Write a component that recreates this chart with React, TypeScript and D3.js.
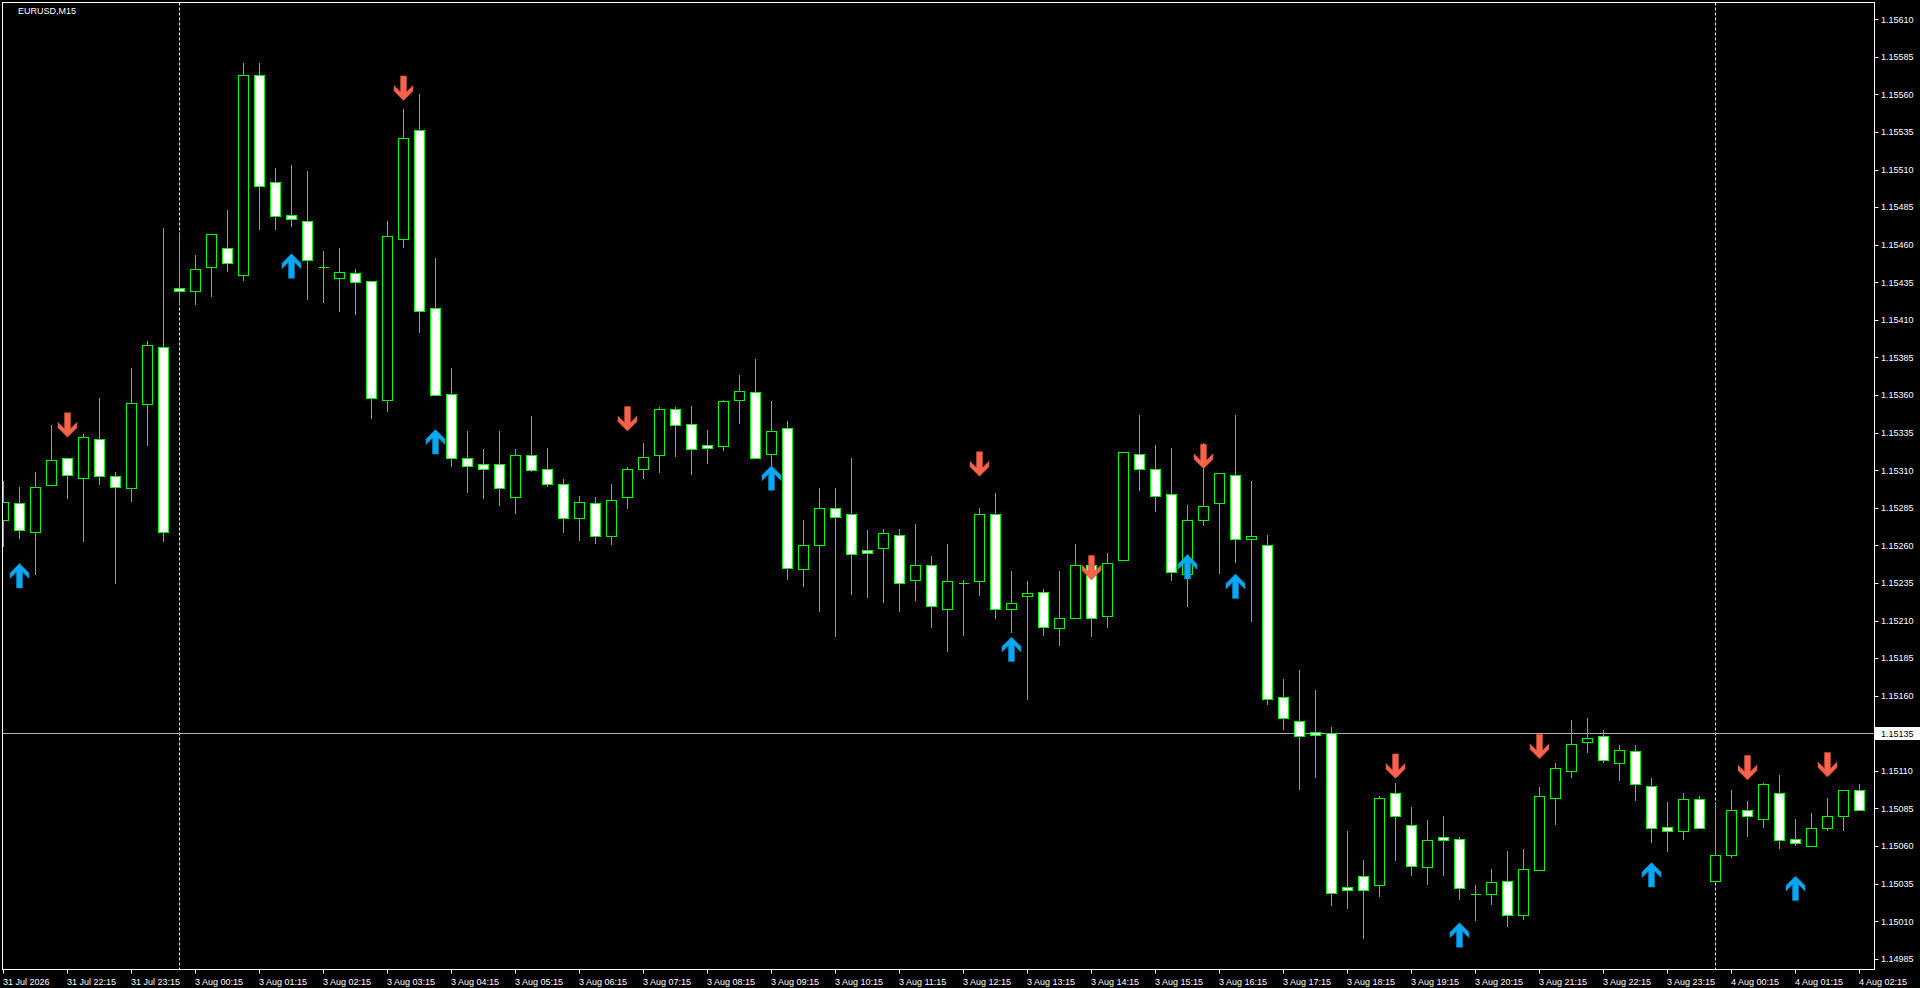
import React from 'react';
import * as d3 from 'd3';

const opens = [1.15277,1.15288,1.15269,1.15300,1.15318,1.15305,1.15331,1.15306,1.15298,1.15354,1.15392,1.15431,1.15429,1.15445,1.15458,1.15440,1.15573,1.15502,1.15480,1.15476,1.15445,1.15438,1.15441,1.15436,1.15357,1.15464,1.15536,1.15418,1.15361,1.15318,1.15314,1.15314,1.15292,1.15320,1.15311,1.15301,1.15278,1.15288,1.15266,1.15292,1.15311,1.15320,1.15351,1.15341,1.15327,1.15326,1.15357,1.15362,1.15321,1.15338,1.15244,1.15260,1.15285,1.15281,1.15257,1.15258,1.15267,1.15237,1.15247,1.15218,1.15235,1.15236,1.15281,1.15218,1.15226,1.15229,1.15205,1.15212,1.15247,1.15213,1.15250,1.15321,1.15311,1.15294,1.15241,1.15277,1.15288,1.15307,1.15264,1.15260,1.15159,1.15143,1.15136,1.15135,1.15033,1.15040,1.15034,1.15095,1.15074,1.15046,1.15066,1.15065,1.15028,1.15028,1.15037,1.15014,1.15044,1.15092,1.15110,1.15129,1.15133,1.15115,1.15123,1.15100,1.15073,1.15070,1.15091,1.15037,1.15054,1.15084,1.15078,1.15095,1.15065,1.15060,1.15072,1.15080,1.15097];
const highs = [1.15303,1.15299,1.15309,1.15340,1.15318,1.15334,1.15358,1.15309,1.15378,1.15396,1.15471,1.15468,1.15453,1.15467,1.15483,1.15581,1.15581,1.15511,1.15513,1.15509,1.15456,1.15458,1.15444,1.15436,1.15476,1.15550,1.15560,1.15451,1.15378,1.15336,1.15324,1.15336,1.15324,1.15346,1.15325,1.15304,1.15293,1.15292,1.15301,1.15312,1.15328,1.15352,1.15352,1.15353,1.15337,1.15357,1.15373,1.15384,1.15356,1.15343,1.15277,1.15298,1.15298,1.15318,1.15270,1.15271,1.15271,1.15274,1.15253,1.15261,1.15237,1.15285,1.15295,1.15243,1.15236,1.15231,1.15243,1.15261,1.15250,1.15255,1.15322,1.15347,1.15327,1.15325,1.15287,1.15328,1.15308,1.15347,1.15303,1.15267,1.15171,1.15177,1.15164,1.15139,1.15070,1.15051,1.15093,1.15102,1.15086,1.15077,1.15080,1.15066,1.15034,1.15045,1.15057,1.15058,1.15099,1.15115,1.15144,1.15145,1.15137,1.15127,1.15127,1.15105,1.15089,1.15095,1.15093,1.15089,1.15097,1.15090,1.15102,1.15107,1.15078,1.15082,1.15092,1.15097,1.15101];
const lows = [1.15259,1.15264,1.15240,1.15300,1.15291,1.15262,1.15300,1.15234,1.15289,1.15326,1.15262,1.15420,1.15420,1.15425,1.15442,1.15436,1.15470,1.15470,1.15472,1.15423,1.15421,1.15415,1.15413,1.15344,1.15349,1.15458,1.15401,1.15360,1.15312,1.15295,1.15291,1.15286,1.15281,1.15309,1.15299,1.15268,1.15263,1.15261,1.15260,1.15284,1.15304,1.15308,1.15319,1.15307,1.15314,1.15323,1.15341,1.15318,1.15313,1.15237,1.15232,1.15216,1.15199,1.15227,1.15225,1.15222,1.15216,1.15223,1.15205,1.15189,1.15200,1.15226,1.15211,1.15202,1.15157,1.15200,1.15193,1.15211,1.15199,1.15205,1.15250,1.15296,1.15282,1.15236,1.15219,1.15273,1.15241,1.15248,1.15209,1.15154,1.15137,1.15097,1.15105,1.15020,1.15018,1.14998,1.15026,1.15050,1.15040,1.15034,1.15040,1.15024,1.15010,1.15021,1.15006,1.15011,1.15044,1.15074,1.15105,1.15122,1.15115,1.15103,1.15090,1.15062,1.15056,1.15064,1.15072,1.15037,1.15052,1.15066,1.15072,1.15058,1.15060,1.15060,1.15070,1.15070,1.15084];
const closes = [1.15289,1.15270,1.15299,1.15317,1.15307,1.15332,1.15306,1.15299,1.15355,1.15393,1.15269,1.15429,1.15444,1.15467,1.15448,1.15573,1.15499,1.15479,1.15477,1.15450,1.15445,1.15442,1.15435,1.15358,1.15466,1.15531,1.15416,1.15360,1.15318,1.15313,1.15311,1.15298,1.15320,1.15310,1.15301,1.15278,1.15289,1.15266,1.15290,1.15311,1.15319,1.15351,1.15340,1.15324,1.15325,1.15356,1.15363,1.15318,1.15336,1.15245,1.15260,1.15285,1.15279,1.15254,1.15255,1.15268,1.15235,1.15247,1.15220,1.15236,1.15235,1.15281,1.15218,1.15222,1.15228,1.15206,1.15212,1.15247,1.15212,1.15248,1.15322,1.15311,1.15293,1.15242,1.15277,1.15286,1.15308,1.15264,1.15266,1.15158,1.15145,1.15133,1.15134,1.15029,1.15031,1.15031,1.15092,1.15080,1.15047,1.15064,1.15064,1.15032,1.15028,1.15036,1.15014,1.15045,1.15093,1.15112,1.15128,1.15132,1.15117,1.15124,1.15101,1.15072,1.15070,1.15091,1.15072,1.15054,1.15084,1.15080,1.15101,1.15064,1.15062,1.15072,1.15080,1.15097,1.15084];

const timeLabels = ["31 Jul 2026","31 Jul 22:15","31 Jul 23:15","3 Aug 00:15","3 Aug 01:15","3 Aug 02:15","3 Aug 03:15","3 Aug 04:15","3 Aug 05:15","3 Aug 06:15","3 Aug 07:15","3 Aug 08:15","3 Aug 09:15","3 Aug 10:15","3 Aug 11:15","3 Aug 12:15","3 Aug 13:15","3 Aug 14:15","3 Aug 15:15","3 Aug 16:15","3 Aug 17:15","3 Aug 18:15","3 Aug 19:15","3 Aug 20:15","3 Aug 21:15","3 Aug 22:15","3 Aug 23:15","4 Aug 00:15","4 Aug 01:15","4 Aug 02:15"];
const timeLabelIdx = [0,4,8,12,16,20,24,28,32,36,40,44,48,52,56,60,64,68,72,76,80,84,88,92,96,100,104,108,112,116];
const priceTicks = [1.15610,1.15585,1.15560,1.15535,1.15510,1.15485,1.15460,1.15435,1.15410,1.15385,1.15360,1.15335,1.15310,1.15285,1.15260,1.15235,1.15210,1.15185,1.15160,1.15135,1.15110,1.15085,1.15060,1.15035,1.15010,1.14985];
const separatorIdx = [11, 107];
const currentPrice = 1.15135;

const upArrowIdx = [1,18,27,48,63,74,77,91,103,112];
const upArrowPrice = [1.15248,1.15454,1.15337,1.15313,1.15199,1.15254,1.15241,1.15009,1.15049,1.15040];
const downArrowIdx = [4,25,39,61,68,75,87,96,109,114];
const downArrowPrice = [1.15332,1.15556,1.15336,1.15306,1.15237,1.15311,1.15105,1.15118,1.15104,1.15106];

const FONT = '"Liberation Sans", Arial, sans-serif';
const GREEN = '#00ff00';

export default function App() {
  const W = 1920, H = 988;
  const fl = 2.5, ft = 2.5, fr = 1874.5, fb = 969.5;
  const x = d3.scaleLinear().domain([0, 116]).range([3.5, 1859.5]);
  const y = d3.scaleLinear().domain([1.14985, 1.15610]).range([958.8, 19.2]);
  const fmt = d3.format('.5f');

  const upPath = 'M0,0 L9.5,9.5 L9.5,15 L3,8.5 L3,24.5 L-3,24.5 L-3,8.5 L-9.5,15 L-9.5,9.5 Z';
  const downPath = 'M0,0 L9.5,-9.5 L9.5,-15 L3,-8.5 L3,-24.5 L-3,-24.5 L-3,-8.5 L-9.5,-15 L-9.5,-9.5 Z';
  const cpY = Math.round(y(currentPrice)) + 0.5;

  return (
    <svg width={W} height={H} style={{ position: 'fixed', left: 0, top: 0, background: '#000', display: 'block' }}>
      <rect x={0} y={0} width={W} height={H} fill="#000" />
      <defs>
        <clipPath id="plot">
          <rect x={fl + 0.5} y={ft + 0.5} width={fr - fl - 1} height={fb - ft - 1} />
        </clipPath>
      </defs>
      <g clipPath="url(#plot)">
        {separatorIdx.map((i) => (
          <line key={'sep' + i} x1={x(i)} x2={x(i)} y1={ft} y2={fb} stroke="#e8e8e8" strokeDasharray="3,2" strokeWidth={1} />
        ))}
        <line x1={fl} x2={fr} y1={cpY} y2={cpY} stroke="#b0b0b0" strokeWidth={1} />
        {opens.map((o, i) => {
          const c = closes[i];
          const cx = x(i);
          const yo = y(o), yc = y(c);
          const top = Math.min(yo, yc), bot = Math.max(yo, yc);
          const bull = c > o;
          return (
            <g key={'c' + i} shapeRendering="crispEdges">
              <line x1={cx} x2={cx} y1={y(highs[i])} y2={y(lows[i])} stroke={GREEN} strokeWidth={1} />
              {Math.abs(bot - top) < 1.5 && o === c ? (
                <line x1={cx - 5} x2={cx + 5} y1={Math.round(yo) + 0.5} y2={Math.round(yo) + 0.5} stroke={GREEN} strokeWidth={1} />
              ) : (
                <rect x={cx - 5} y={Math.round(top) + 0.5} width={10} height={Math.max(2, Math.round(bot) - Math.round(top))} fill={bull ? '#000' : '#fff'} stroke={GREEN} strokeWidth={1} />
              )}
            </g>
          );
        })}
        {upArrowIdx.map((i, k) => (
          <path key={'u' + i} d={upPath} transform={`translate(${x(i)},${y(upArrowPrice[k])})`} fill="#0aa8f2" stroke="#0a7fbf" strokeWidth={0.6} />
        ))}
        {downArrowIdx.map((i, k) => (
          <path key={'d' + i} d={downPath} transform={`translate(${x(i)},${y(downArrowPrice[k])})`} fill="#f8624a" stroke="#c04a38" strokeWidth={0.6} />
        ))}
      </g>
      <rect x={fl} y={ft} width={fr - fl} height={fb - ft} fill="none" stroke="#ffffff" strokeWidth={1} shapeRendering="crispEdges" />
      <text x={18} y={14} fill="#ffffff" fontFamily={FONT} fontSize={9}>EURUSD,M15</text>
      {priceTicks.map((p) => (
        <g key={'p' + p}>
          <line x1={fr} x2={fr + 4} y1={Math.round(y(p)) + 0.5} y2={Math.round(y(p)) + 0.5} stroke="#fff" strokeWidth={1} />
          <text x={1881} y={y(p) + 3.3} fill="#ffffff" fontFamily={FONT} fontSize={9}>{fmt(p)}</text>
        </g>
      ))}
      <rect x={1875} y={cpY - 6.5} width={45} height={13} fill="#ffffff" />
      <text x={1881} y={cpY + 3.3} fill="#000000" fontFamily={FONT} fontSize={9}>{fmt(currentPrice)}</text>
      {timeLabelIdx.map((i, k) => (
        <g key={'t' + i}>
          <line x1={x(i)} x2={x(i)} y1={fb} y2={fb + 4} stroke="#fff" strokeWidth={1} />
          <text x={k === 0 ? 3 : x(i) - 0.5} y={984.5} fill="#ffffff" fontFamily={FONT} fontSize={9}>{timeLabels[k]}</text>
        </g>
      ))}
    </svg>
  );
}
